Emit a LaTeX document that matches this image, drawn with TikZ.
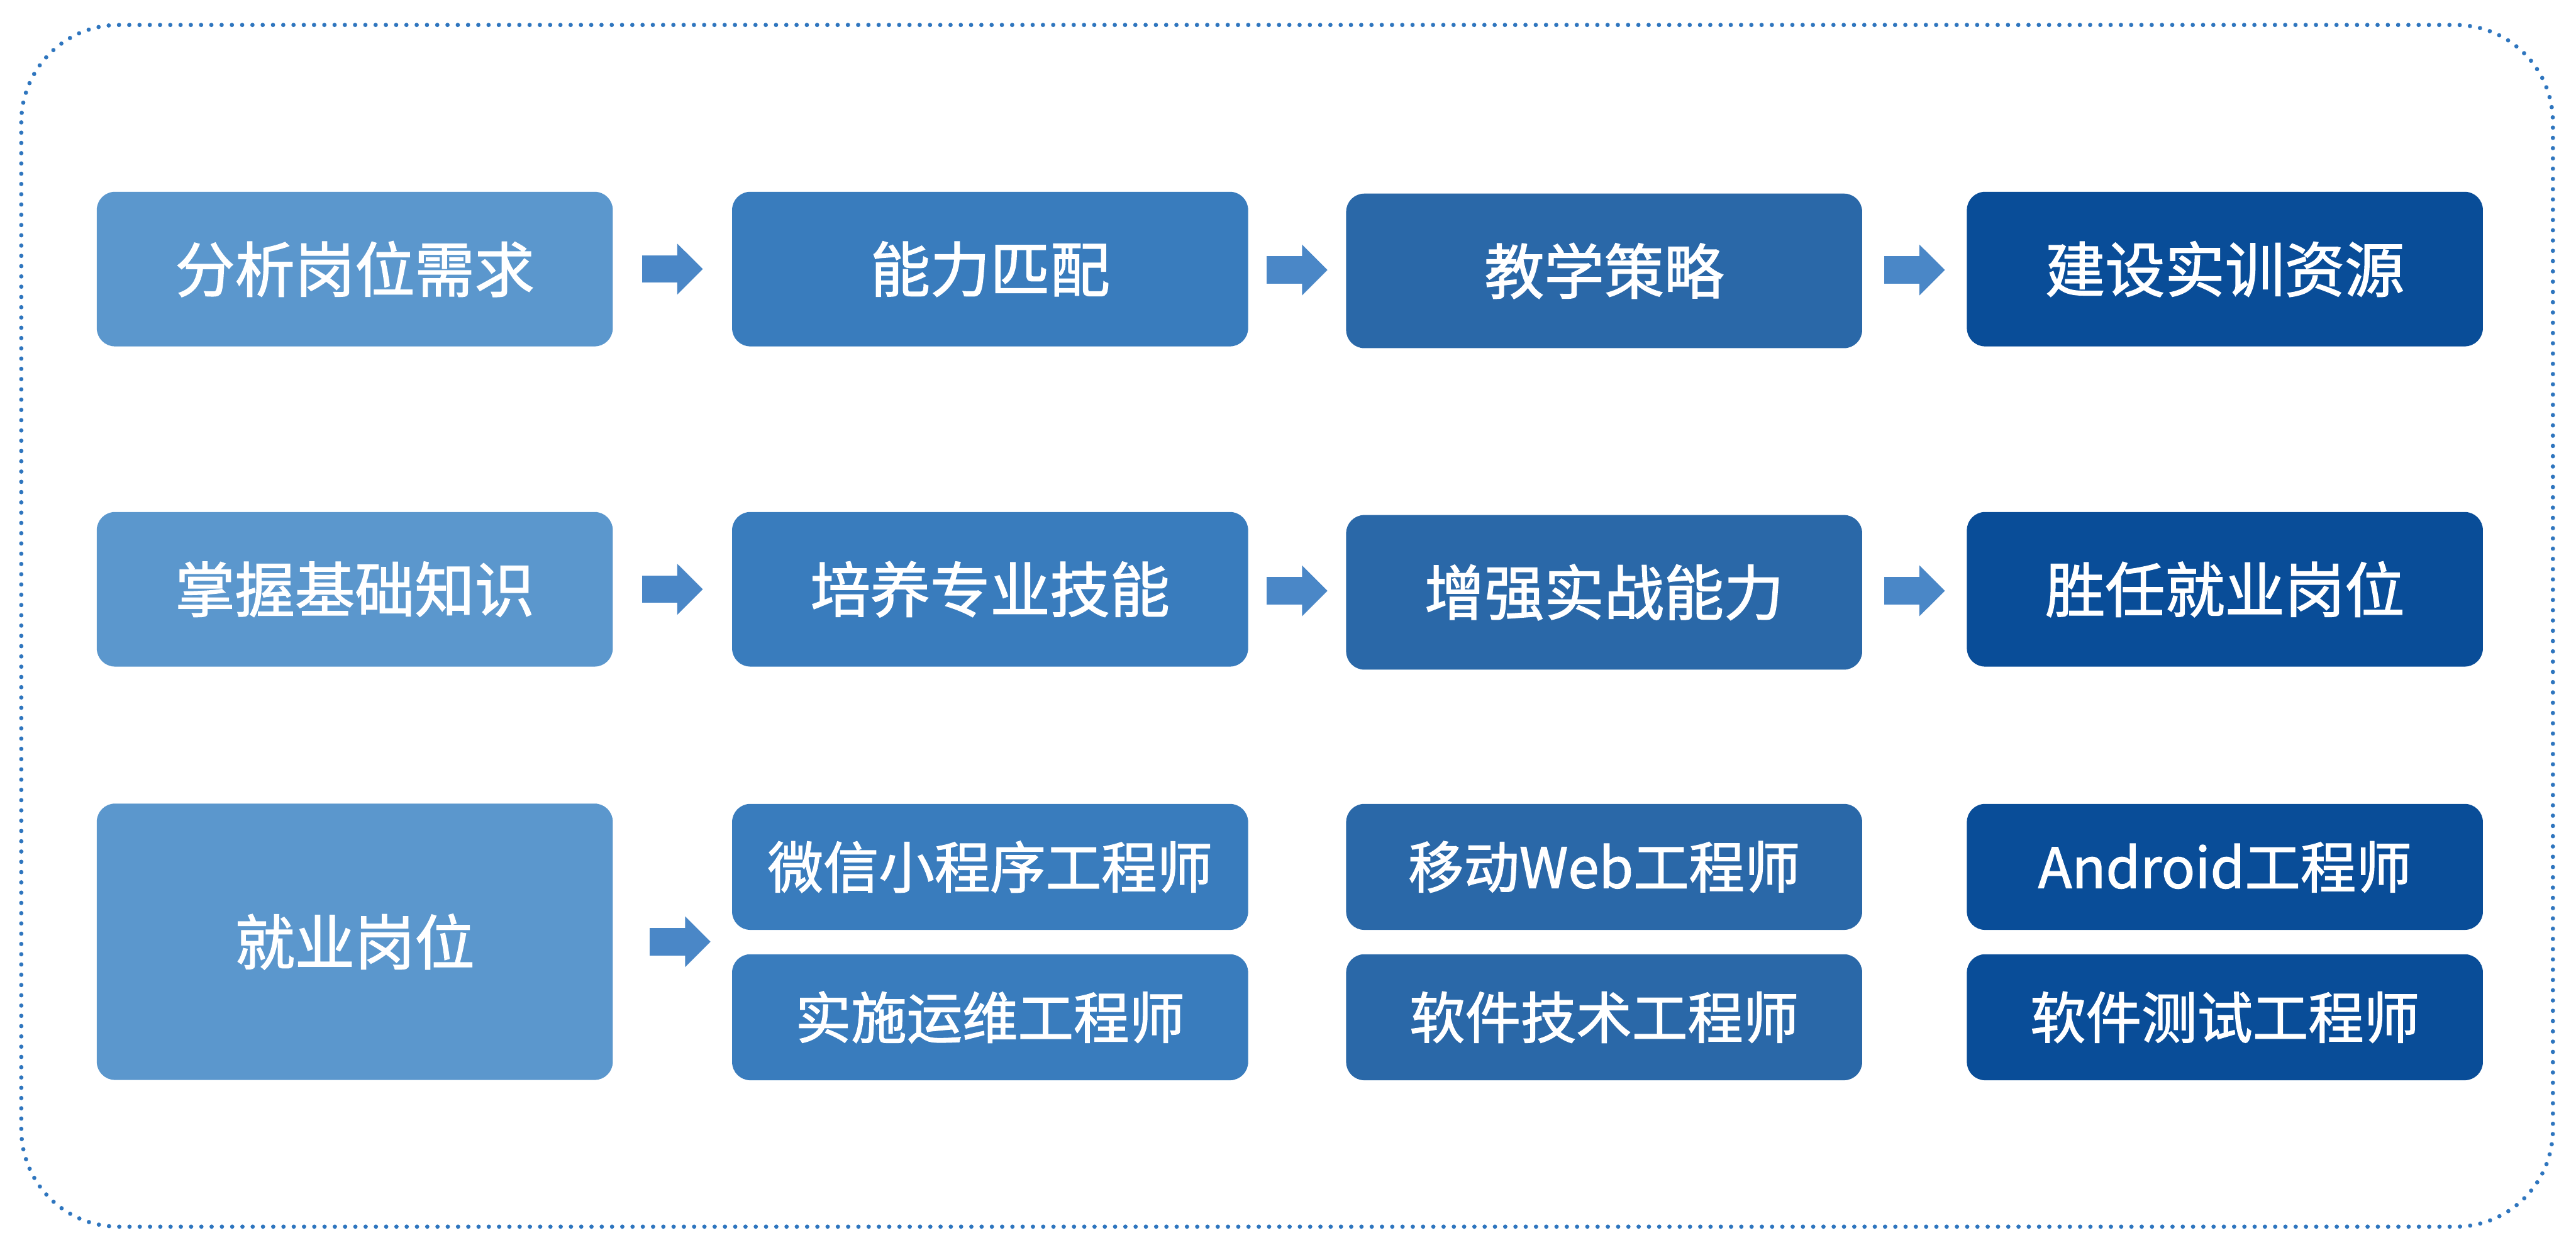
\documentclass[tikz,border=0pt]{standalone}
\usepackage{fontspec}
\setmainfont{Noto Sans CJK SC}[UprightFeatures={FakeBold=1.5}]
\definecolor{stepblue}{RGB}{91,151,205}
\definecolor{midblue}{RGB}{57,124,189}
\definecolor{deepblue}{RGB}{42,104,168}
\definecolor{navyblue}{RGB}{9,77,152}
\definecolor{arrowblue}{RGB}{74,135,199}
\definecolor{frameblue}{RGB}{46,117,190}
\usetikzlibrary{positioning,arrows.meta,calc}

\begin{document}
\begin{tikzpicture}[
    box/.style={rectangle,rounded corners=0.3cm,minimum width=8.48cm,minimum height=2.54cm,inner sep=0pt,text=white,font=\fontsize{28}{32}\selectfont},
    job/.style={box,minimum height=2.07cm,font=\fontsize{26}{30}\selectfont},
    arrow/.style={-{Triangle[length=0.42cm,width=0.81cm]},line width=0.45cm,arrowblue},
    frame/.style={frameblue,line width=2pt,line cap=round,dash pattern=on 0pt off 4.8pt,rounded corners=1.6cm}
]
    \useasboundingbox (0,0) rectangle (42.33,-20.64);
    \draw[frame] (0.35,-0.41) rectangle (41.95,-20.15);

    % first row
    \node[box,fill=stepblue] (analyse) at (5.83,-4.42) {分析岗位需求};
    \node[box,fill=midblue] (match) at (16.27,-4.42) {能力匹配};
    \node[box,fill=deepblue] (strategy) at (26.36,-4.45) {教学策略};
    \node[box,fill=navyblue] (resource) at (36.56,-4.42) {建设实训资源};

    % second row
    \node[box,fill=stepblue] (basic) at (5.83,-9.68) {掌握基础知识};
    \node[box,fill=midblue] (skill) at (16.27,-9.68) {培养专业技能};
    \node[box,fill=deepblue] (practice) at (26.36,-9.73) {增强实战能力};
    \node[box,fill=navyblue] (competent) at (36.56,-9.68) {胜任就业岗位};

    % jobs
    \node[box,fill=stepblue,minimum height=4.54cm] (jobs) at (5.83,-15.47) {就业岗位};
    \node[job,fill=midblue] (wechat) at (16.27,-14.24) {微信小程序工程师};
    \node[job,fill=midblue] (ops) at (16.27,-16.71) {实施运维工程师};
    \node[job,fill=deepblue] (mweb) at (26.36,-14.24) {移动Web工程师};
    \node[job,fill=deepblue] (softtech) at (26.36,-16.71) {软件技术工程师};
    \node[job,fill=navyblue] (android) at (36.56,-14.24) {Android工程师};
    \node[job,fill=navyblue] (testing) at (36.56,-16.71) {软件测试工程师};

    \foreach \a/\b in {analyse/match,match/strategy,strategy/resource,basic/skill,skill/practice,practice/competent}
        \draw[arrow] ($(\a.east)!0.5!(\b.west)+(-0.5,0)$) -- ++(1.0,0);
    \draw[arrow] ($(jobs.east)+(0.6,0)$) -- ++(1.0,0);
\end{tikzpicture}
\end{document}
